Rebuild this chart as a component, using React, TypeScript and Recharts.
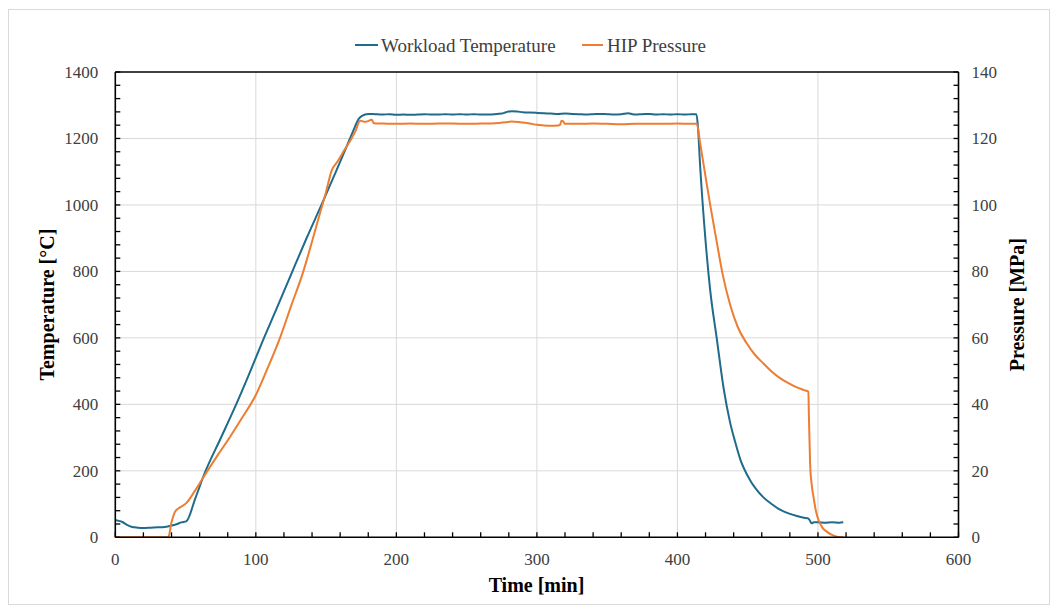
import React from "react";
import {
  LineChart,
  Line,
  XAxis,
  YAxis,
  CartesianGrid,
  ReferenceLine,
} from "recharts";

// ---- Data ----
const tempTime = [
  0, 2, 5, 8, 12, 16, 20, 25, 30, 35, 38, 41, 44, 47, 50.5, 57, 63.8, 75, 86, 95,
  105, 115, 125.5, 136, 147, 157, 167, 170.5, 173, 175.5, 180, 185, 190, 195, 200,
  205, 210, 215, 220, 225, 230, 235, 240, 245, 250, 255, 260, 265, 270, 275, 278,
  282, 286, 290, 295, 300, 305, 310, 315, 320, 325, 330, 335, 340, 345, 350, 355,
  360, 365, 368, 370, 375, 380, 385, 390, 395, 400, 405, 410, 413.5, 414.5, 416.2,
  419, 423.3, 428, 432.8, 437.5, 441, 444.6, 451.7, 456, 461, 467, 473, 479, 485,
  490, 493, 494, 495.5, 497, 500, 505, 510, 515, 518,
];
const tempValues = [
  52, 50, 46, 38, 31, 29, 28, 29, 30, 31, 33, 36, 40, 45, 48, 118, 195, 298, 400, 489,
  592, 690, 795, 899, 1003, 1100, 1200, 1235, 1258, 1268, 1274, 1273, 1272, 1273, 1271,
  1272, 1271, 1272, 1273, 1272, 1272, 1273, 1272, 1273, 1272, 1273, 1272, 1272, 1273, 1275, 1279,
  1282, 1281, 1279, 1278, 1277, 1276, 1275, 1274, 1275, 1274, 1273, 1272, 1273, 1274, 1273, 1272,
  1273, 1276, 1273, 1272, 1273, 1274, 1272, 1273, 1272, 1273, 1272, 1273, 1273, 1240, 1114,
  945, 744, 598, 450, 345, 288, 236, 172, 145, 121, 100, 83, 72, 64,
  59, 57, 52, 42, 45, 45, 44, 45, 44, 45,
];

const pressTime = [
  0, 37.7, 40, 42.5, 46, 50.3, 57, 65, 73, 81.6, 90, 100, 108, 117.2, 125, 133.8,
  136.2, 145, 150, 154, 158, 163, 168.2, 171, 174.2, 178, 182.5, 184, 190, 200, 210,
  220, 230, 240, 250, 260, 270, 278, 282, 288, 295, 300, 305, 310, 315, 316.5, 317.5,
  318.5, 320, 330, 340, 350, 360, 370, 380, 390, 400, 410, 413.8, 416.2, 420, 423.4,
  428, 432, 437.5, 443, 449.4, 455, 461.2, 467, 473, 479, 485, 490, 493.2, 493.5,
  494.4, 495.5, 496.8, 498.5, 500.4, 503, 506.3, 510, 513.4, 518,
];
const pressValues = [
  0, 0, 4.5, 7.7, 9, 10.2, 14.2, 19.6, 24.8, 30.2, 35.8, 42.8, 50.5, 60, 69.5, 80,
  83.4, 96.5, 104, 110.4, 113, 116.5, 120.1, 122.3, 125.3, 125, 125.6, 124.6, 124.5, 124.4, 124.5,
  124.4, 124.5, 124.5, 124.4, 124.5, 124.6, 124.9, 125.1, 124.9, 124.5, 124.1, 123.9, 123.8, 123.9, 124.1, 125.3,
  125.2, 124.4, 124.4, 124.5, 124.4, 124.3, 124.4, 124.4, 124.4, 124.5, 124.4, 124.4, 118.5, 108.5, 99.8,
  88.8, 79.5, 70, 63.2, 58.3, 55, 52.3, 49.9, 47.9, 46.4, 45.1, 44.3, 43.8, 37.4,
  22.3, 16, 12.2, 8, 5.2, 3, 1.7, 0.7, 0.2, 0,
];

const xMajorTicks = [0, 100, 200, 300, 400, 500, 600];
const tempMajorTicks = [0, 200, 400, 600, 800, 1000, 1200, 1400];
const pressMajorTicks = [0, 20, 40, 60, 80, 100, 120, 140];
const xMinorStep = 20;
const tempMinorStep = 40;
const pressMinorStep = 4;

const seriesNames = ["Workload Temperature", "HIP Pressure"];
const xTitle = "Time [min]";
const leftTitle = "Temperature [°C]";
const rightTitle = "Pressure [MPa]";

// ---- Derived ----
const buildTicks = (max: number, step: number) => {
  const out: number[] = [];
  for (let v = 0; v <= max + 1e-9; v += step) out.push(Math.round(v * 1000) / 1000);
  return out;
};
const xTicks = buildTicks(600, xMinorStep);
const tempTicks = buildTicks(1400, tempMinorStep);
const pressTicks = buildTicks(140, pressMinorStep);

const tempData = tempTime.map((t, i) => ({ t, v: tempValues[i] }));
const pressData = pressTime.map((t, i) => ({ t, v: pressValues[i] }));

const FONT = "'Liberation Serif', 'Times New Roman', serif";
const BLUE = "#1f6b8c";
const ORANGE = "#ed7d31";
const TICK_FS = 17;
const TICK_LEN = 5;

const XTick = (props: any) => {
  const { x, y, payload } = props;
  const v = payload.value;
  const major = xMajorTicks.includes(v);
  return (
    <g>
      <line x1={x} x2={x} y1={y} y2={y - TICK_LEN} stroke="#000" strokeWidth={1.3} />
      {major && (
        <text x={x} y={y + 28} textAnchor="middle" fontFamily={FONT} fontSize={TICK_FS} fill="#404040">
          {v}
        </text>
      )}
    </g>
  );
};

const LeftTick = (props: any) => {
  const { x, y, payload } = props;
  const v = payload.value;
  const major = tempMajorTicks.includes(v);
  return (
    <g>
      <line x1={x} x2={x + TICK_LEN} y1={y} y2={y} stroke="#000" strokeWidth={1.3} />
      {major && (
        <text x={x - 17} y={y + 6} textAnchor="end" fontFamily={FONT} fontSize={TICK_FS} fill="#404040">
          {v}
        </text>
      )}
    </g>
  );
};

const RightTick = (props: any) => {
  const { x, y, payload } = props;
  const v = payload.value;
  const major = pressMajorTicks.includes(v);
  return (
    <g>
      <line x1={x} x2={x - TICK_LEN} y1={y} y2={y} stroke="#000" strokeWidth={1.3} />
      {major && (
        <text x={x + 13} y={y + 6} textAnchor="start" fontFamily={FONT} fontSize={TICK_FS} fill="#404040">
          {v}
        </text>
      )}
    </g>
  );
};

const CHART_W = 1040;
const CHART_H = 594;

export default function App() {
  return (
    <div
      style={{
        position: "relative",
        marginTop: 1,
        width: CHART_W + 2,
        height: CHART_H + 2,
        border: "1px solid #d9d9d9",
        boxSizing: "border-box",
        background: "#fff",
      }}
    >
      <LineChart
        width={CHART_W}
        height={CHART_H}
        margin={{ top: 62, right: 30.5, bottom: 26.7, left: 46.3 }}
      >
        <CartesianGrid
          yAxisId="left"
          stroke="#d9d9d9"
          strokeWidth={1}
          horizontalValues={[200, 400, 600, 800, 1000, 1200]}
          verticalValues={[100, 200, 300, 400, 500]}
        />
        <XAxis
          type="number"
          dataKey="t"
          domain={[0, 600]}
          ticks={xTicks}
          interval={0}
          allowDataOverflow
          height={40}
          tickLine={false}
          tickSize={0}
          tickMargin={0}
          axisLine={{ stroke: "#000", strokeWidth: 1.6 }}
          tick={<XTick />}
          label={() => (
            <text
              x={527.5}
              y={581.5}
              textAnchor="middle"
              fontFamily={FONT}
              fontWeight="bold"
              fontSize={20}
              fill="#000"
            >
              {xTitle}
            </text>
          )}
        />
        <YAxis
          yAxisId="left"
          type="number"
          domain={[0, 1400]}
          ticks={tempTicks}
          interval={0}
          allowDataOverflow
          width={60}
          tickLine={false}
          tickSize={0}
          tickMargin={0}
          axisLine={{ stroke: "#000", strokeWidth: 1.6 }}
          tick={<LeftTick />}
          label={() => (
            <text
              x={45}
              y={294.6}
              transform="rotate(-90, 45, 294.6)"
              textAnchor="middle"
              fontFamily={FONT}
              fontWeight="bold"
              fontSize={20}
              fill="#000"
            >
              {leftTitle}
            </text>
          )}
        />
        <YAxis
          yAxisId="right"
          orientation="right"
          type="number"
          domain={[0, 140]}
          ticks={pressTicks}
          interval={0}
          allowDataOverflow
          width={60}
          tickLine={false}
          tickSize={0}
          tickMargin={0}
          axisLine={{ stroke: "#000", strokeWidth: 1.6 }}
          tick={<RightTick />}
          label={() => (
            <text
              x={1015}
              y={294.6}
              transform="rotate(-90, 1015, 294.6)"
              textAnchor="middle"
              fontFamily={FONT}
              fontWeight="bold"
              fontSize={20}
              fill="#000"
            >
              {rightTitle}
            </text>
          )}
        />
        <ReferenceLine yAxisId="left" y={1400} stroke="#000" strokeWidth={1.6} ifOverflow="visible" />
        <Line
          yAxisId="left"
          data={tempData}
          dataKey="v"
          name={seriesNames[0]}
          type="monotone"
          stroke={BLUE}
          strokeWidth={2}
          dot={false}
          activeDot={false}
          isAnimationActive={false}
        />
        <Line
          yAxisId="right"
          data={pressData}
          dataKey="v"
          name={seriesNames[1]}
          type="monotone"
          stroke={ORANGE}
          strokeWidth={2}
          dot={false}
          activeDot={false}
          isAnimationActive={false}
        />
      </LineChart>
      <svg
        width={CHART_W}
        height={60}
        style={{ position: "absolute", left: 0, top: 0, pointerEvents: "none" }}
      >
        <line x1={346} x2={369} y1={35} y2={35} stroke={BLUE} strokeWidth={2} />
        <text x={372} y={41.7} fontFamily={FONT} fontSize={19} fill="#404040">
          {seriesNames[0]}
        </text>
        <line x1={573} x2={594} y1={35} y2={35} stroke={ORANGE} strokeWidth={2} />
        <text x={598} y={41.7} fontFamily={FONT} fontSize={19} fill="#404040">
          {seriesNames[1]}
        </text>
      </svg>
    </div>
  );
}
